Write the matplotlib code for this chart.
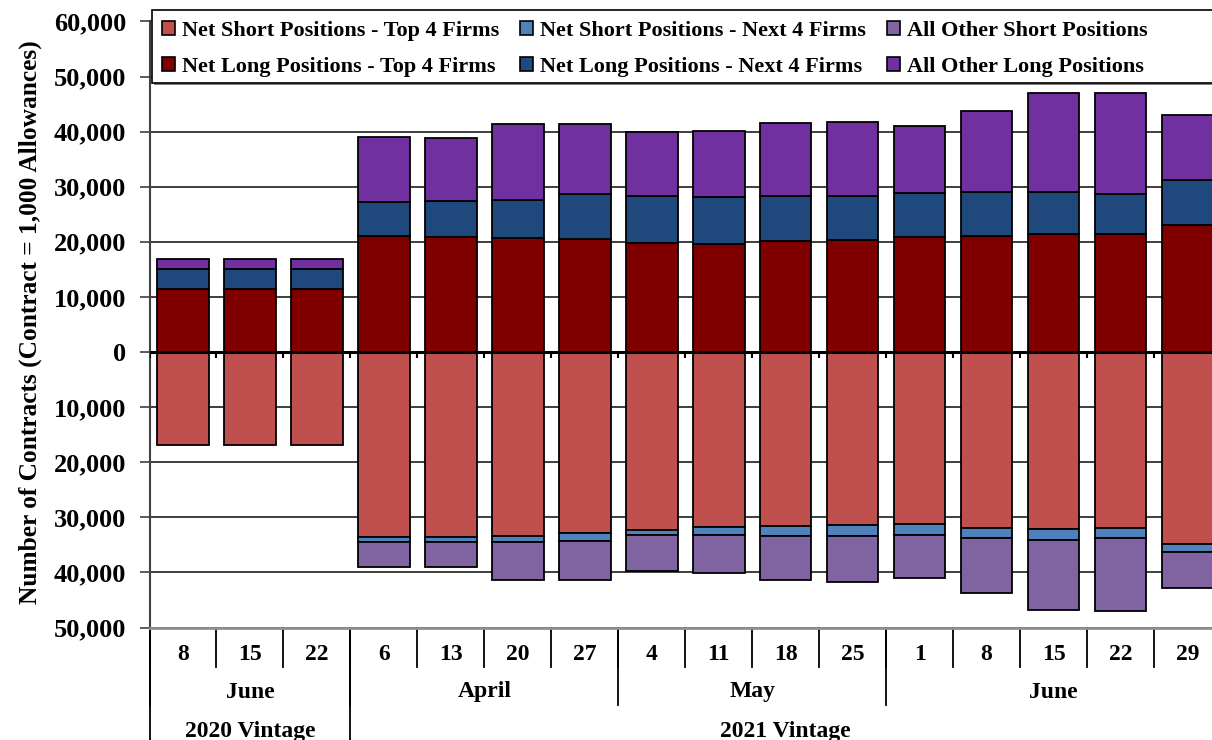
import matplotlib
matplotlib.use("Agg")
import matplotlib.pyplot as plt
from matplotlib.patches import Rectangle, Patch
from matplotlib.ticker import FuncFormatter
import numpy as np

# ---------------------------------------------------------------------------
# Data (contracts)
# ---------------------------------------------------------------------------
days = ["8", "15", "22", "6", "13", "20", "27", "4", "11", "18", "25",
        "1", "8", "15", "22", "29"]
months = ["June", "April", "May", "June"]
month_spans = [(0, 2), (3, 6), (7, 10), (11, 15)]
vintages = ["2020 Vintage", "2021 Vintage"]
vintage_spans = [(0, 2), (3, 15)]

long_top4 = [11400, 11400, 11400, 21000, 20950, 20700, 20450, 19850,
             19600, 20200, 20350, 20850, 21050, 21350, 21350, 23100]
long_next4 = [3750, 3750, 3750, 6220, 6390, 6950, 8280, 8530,
              8530, 8170, 8040, 8040, 7990, 7730, 7370, 8110]
long_other = [1700, 1700, 1700, 11800, 11560, 13680, 12710, 11560,
              11980, 13130, 13430, 12050, 14700, 17860, 18270, 11790]

short_top4 = [16900, 16900, 16900, 33550, 33500, 33330, 32910, 32250,
              31760, 31520, 31400, 31160, 31940, 32120, 31880, 34790]
short_next4 = [0, 0, 0, 1020, 980, 1090, 1330, 1020,
               1390, 1930, 1930, 2050, 1820, 1940, 1820, 1510]
short_other = [0, 0, 0, 4480, 4480, 6910, 7200, 6530,
               6890, 7930, 8470, 7750, 9920, 12820, 13300, 6590]

labels_short = ["Net Short Positions - Top 4 Firms",
                "Net Short Positions - Next 4 Firms",
                "All Other Short Positions"]
labels_long = ["Net Long Positions - Top 4 Firms",
               "Net Long Positions - Next 4 Firms",
               "All Other Long Positions"]

colors_short = ["#C0504D", "#4F81BD", "#8064A2"]
colors_long = ["#800000", "#1F497D", "#7030A0"]

plt.rcParams['font.family'] = ['Liberation Serif', 'DejaVu Serif']
plt.rcParams['font.weight'] = 'bold'

W, H = 1212, 740
fig = plt.figure(figsize=(W / 100, H / 100), dpi=100)

# axes in pixel terms: left 149.5, right 1221 (cropped), top 21.4, bottom 627.5
ax_l, ax_r, ax_t, ax_b = 149.5, 1221.0, 21.4, 627.5
ax = fig.add_axes([ax_l / W, 1 - ax_b / H, (ax_r - ax_l) / W, (ax_b - ax_t) / H])

x = np.arange(len(days))
bw = 0.77
edge = dict(edgecolor="black", linewidth=1.3, zorder=3)

# longs (positive)
bottom = np.zeros(len(x))
for vals, c in zip([long_top4, long_next4, long_other], colors_long):
    v = np.array(vals, dtype=float)
    ax.bar(x, v, bw, bottom=bottom, color=c, **edge)
    bottom += v

# shorts (negative)
bottom = np.zeros(len(x))
for vals, c in zip([short_top4, short_next4, short_other], colors_short):
    v = -np.array(vals, dtype=float)
    mask = v != 0
    ax.bar(x[mask], v[mask], bw, bottom=bottom[mask], color=c, **edge)
    bottom += v

ax.set_xlim(-0.5, len(x) - 0.5)
ax.set_ylim(-50000, 60000)
ax.set_yticks(np.arange(-50000, 60001, 10000))
ax.yaxis.set_major_formatter(FuncFormatter(lambda v, p: f"{abs(int(v)):,}"))
ax.tick_params(axis='y', labelsize=19, length=7, width=1.2, color="#404040", pad=10)
ax.set_xticks([])

ax.grid(axis='y', color="#303030", linewidth=1.3, zorder=0)
ax.set_axisbelow(True)
for s in ["top", "right"]:
    ax.spines[s].set_visible(False)
ax.spines["left"].set_color("#404040")
ax.spines["left"].set_linewidth(1.5)
ax.spines["bottom"].set_color("#909090")
ax.spines["bottom"].set_linewidth(2)

# zero line with small category ticks
ax.axhline(0, color="black", linewidth=2.2, zorder=4)
bounds = np.arange(len(x) + 1) - 0.5
ax.vlines(bounds, -1000, 0, color="black", linewidth=1.5, zorder=4)

# multi-level category labels below the axes
trans = ax.get_xaxis_transform()
hpx = ax_b - ax_t
def yf(py):
    return (ax_b - py) / hpx

for b in bounds:
    ax.plot([b, b], [0, yf(667)], transform=trans, color="black",
            lw=1.3, clip_on=False)
for i, d in enumerate(days):
    ax.text(i, yf(654), d, transform=trans, ha="center", va="center",
            fontsize=17, fontweight="bold")

for name, (a, b) in zip(months, month_spans):
    ax.text((a + b) / 2, yf(692), name, transform=trans, ha="center",
            va="center", fontsize=17, fontweight="bold")
    ax.plot([a - 0.5, a - 0.5], [0, yf(705)], transform=trans, color="black",
            lw=1.3, clip_on=False)

for name, (a, b) in zip(vintages, vintage_spans):
    ax.text((a + b) / 2, yf(731), name, transform=trans, ha="center",
            va="center", fontsize=17, fontweight="bold")
    ax.plot([a - 0.5, a - 0.5], [0, yf(745)], transform=trans, color="black",
            lw=1.3, clip_on=False)

fig.text(30 / W, 1 - 322 / H, "Number of Contracts (Contract = 1,000 Allowances)",
         rotation=90, ha="center", va="center", fontsize=18.3, fontweight="bold")

# legend with its own frame (box runs off the right edge)
lx0, ly0, lx1, ly1 = 152, 10, 1230, 83
fig.patches.append(Rectangle((lx0 / W + 2 / W, 1 - (ly1 + 2) / H),
                             (lx1 - lx0) / W, (ly1 - ly0) / H,
                             transform=fig.transFigure, facecolor="#808080",
                             edgecolor="none", zorder=9))
fig.patches.append(Rectangle((lx0 / W, 1 - ly1 / H), (lx1 - lx0) / W,
                             (ly1 - ly0) / H, transform=fig.transFigure,
                             facecolor="white", edgecolor="black", lw=1.2,
                             zorder=10))

handles, labels = [], []
for i in range(3):
    handles += [Patch(facecolor=colors_short[i], edgecolor="black", lw=1.2),
                Patch(facecolor=colors_long[i], edgecolor="black", lw=1.2)]
    labels += [labels_short[i], labels_long[i]]
leg = fig.legend(handles, labels, ncol=3, loc="upper left",
                 bbox_to_anchor=(146 / W, 1 - 5 / H), frameon=False,
                 handlelength=0.6, handleheight=0.6,
                 handletextpad=0.3, columnspacing=0.95, labelspacing=0.75,
                 borderpad=0.2, prop=dict(weight="bold", size=16))
leg.set_zorder(11)

fig.savefig("out.png", dpi=100)
